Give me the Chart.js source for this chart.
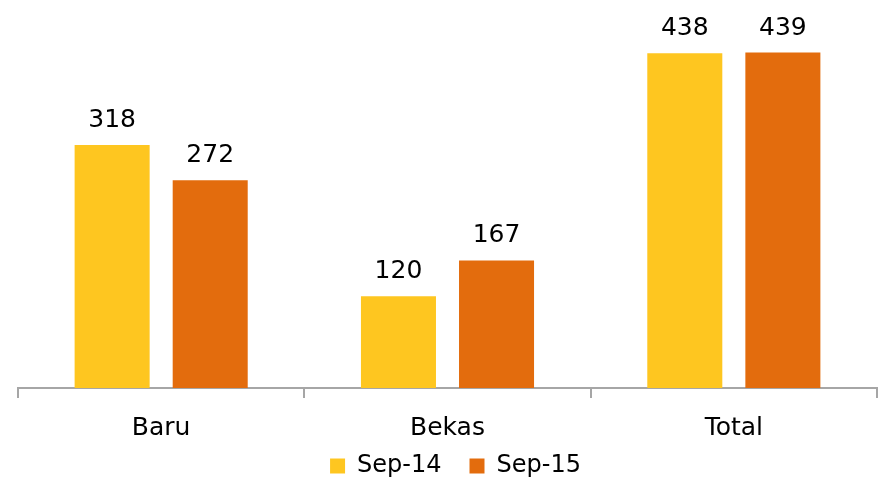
<!DOCTYPE html>
<html><head><meta charset="utf-8">
<script src="https://cdn.jsdelivr.net/npm/chart.js@4"></script>
<style>html,body{margin:0;padding:0;background:#fff}#wrap{width:883px;height:482px}</style>
</head><body><div id="wrap"><canvas id="c" width="883" height="482"></canvas></div>
<script>
const categories = ["Baru", "Bekas", "Total"];
const seriesNames = ["Sep-14", "Sep-15"];
const sep14 = [318, 120, 438];
const sep15 = [272, 167, 439];
const colors = ["#FEC620", "#E36C0D"];
const FONT = "'DejaVu Sans', sans-serif";

const labelPlugin = {
  id: 'valueLabels',
  afterDatasetsDraw(chart) {
    const ctx = chart.ctx;
    ctx.save();
    ctx.font = "25px " + FONT;
    ctx.fillStyle = "#000";
    ctx.textAlign = "center";
    ctx.textBaseline = "alphabetic";
    chart.data.datasets.forEach((ds, i) => {
      chart.getDatasetMeta(i).data.forEach((bar, j) => {
        ctx.fillText(String(ds.data[j]), bar.x, bar.y - 18);
      });
    });
    ctx.restore();
  }
};

// compact legend box height, then nudge legend position after layout
const legendPlace = {
  id: 'legendPlace',
  beforeLayout(chart) {
    const lg = chart.legend;
    if (lg && !lg._patched) {
      const orig = lg.fit;
      lg.fit = function () { orig.call(this); this.height = 40; };
      lg._patched = true;
    }
  },
  afterLayout(chart) {
    const lg = chart.legend;
    if (lg) {
      lg.top -= 16;
      lg.bottom = chart.height;
      lg.height = lg.bottom - lg.top;
      lg.left += 8; lg.right += 8;
    }
  }
};

new Chart(document.getElementById('c'), {
  type: 'bar',
  data: {
    labels: categories,
    datasets: [
      { label: seriesNames[0], data: sep14, backgroundColor: colors[0] },
      { label: seriesNames[1], data: sep15, backgroundColor: colors[1] }
    ]
  },
  options: {
    responsive: false,
    animation: false,
    layout: { padding: { top: 6, left: 18, right: 6, bottom: 0 } },
    datasets: { bar: { categoryPercentage: 0.685, barPercentage: 0.765 } },
    plugins: {
      legend: {
        position: 'bottom',
        labels: { font: { family: FONT, size: 24 }, color: '#000', boxWidth: 15, boxHeight: 15, padding: 28 }
      },
      tooltip: { enabled: false }
    },
    scales: {
      x: {
        offset: true,
        afterFit(scale) { scale.height = 54; },
        grid: { offset: true, drawOnChartArea: false, drawTicks: true, tickLength: 10, color: '#A6A6A6', lineWidth: 2 },
        border: { display: true, color: '#A6A6A6', width: 2 },
        ticks: { font: { family: FONT, size: 25 }, color: '#000', padding: 15 }
      },
      y: { display: false, min: 0, max: 500 }
    }
  },
  plugins: [labelPlugin, legendPlace]
});
</script></body></html>
